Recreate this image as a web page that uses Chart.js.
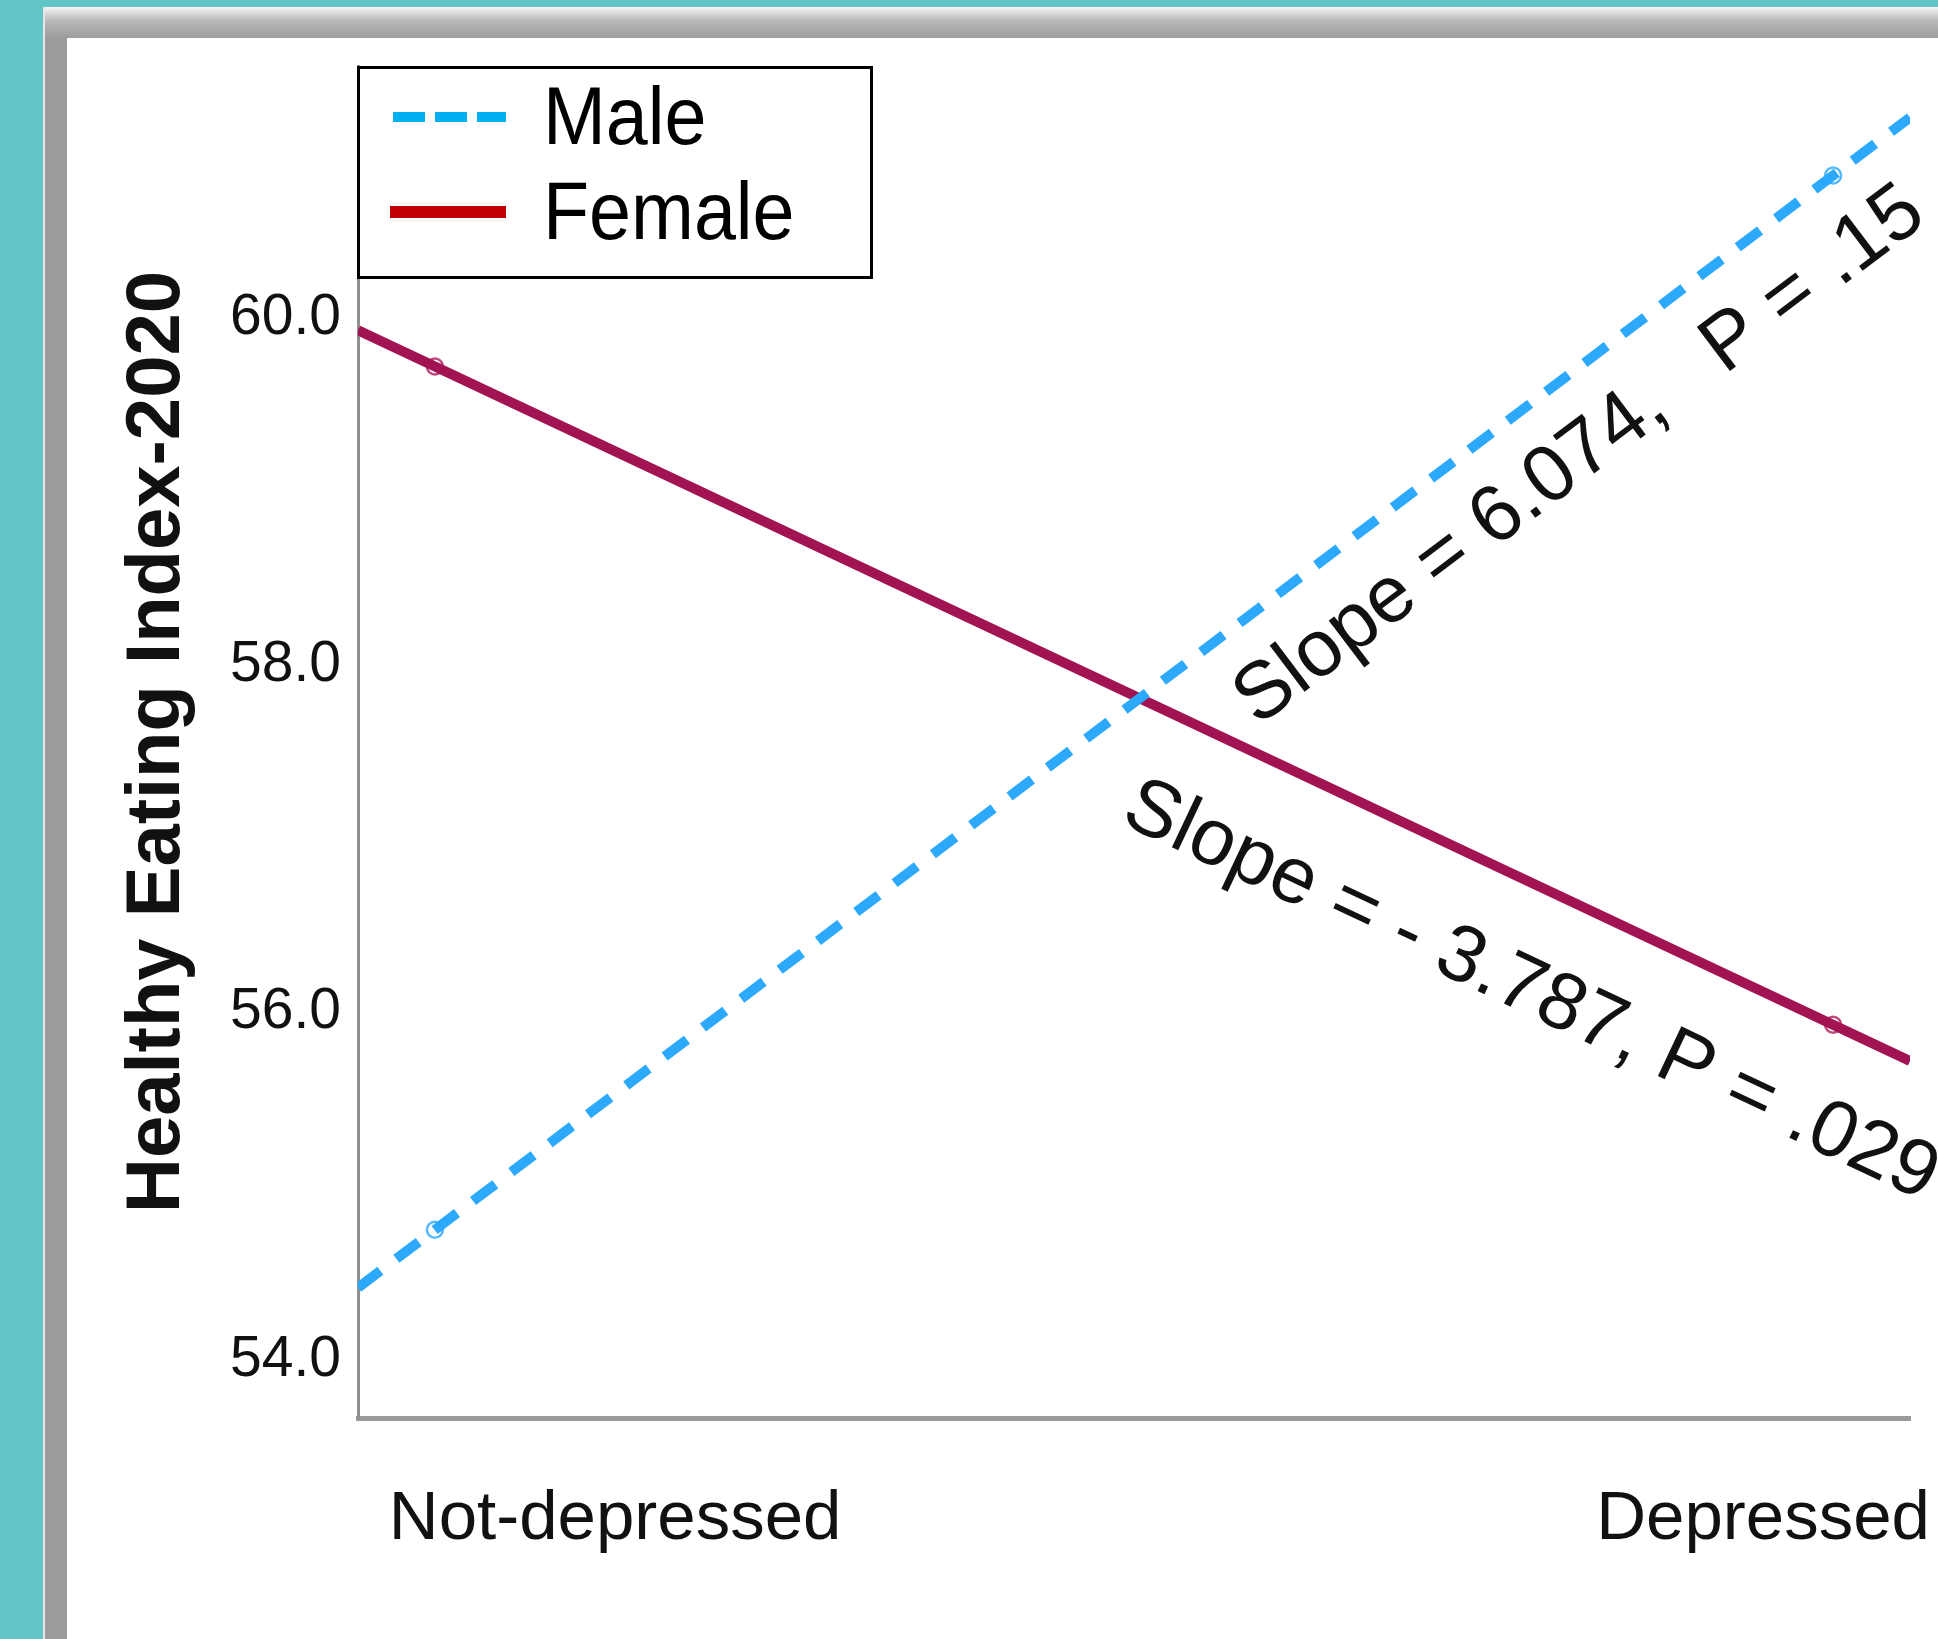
<!DOCTYPE html>
<html>
<head>
<meta charset="utf-8">
<title>Healthy Eating Index-2020 by depression status and sex</title>
<script src="https://cdn.jsdelivr.net/npm/chart.js@4.4.1/dist/chart.umd.min.js"></script>
<style>
  html, body { margin: 0; padding: 0; }
  body { width: 1938px; height: 1639px; background: #62c6c9; position: relative; overflow: hidden; }
  #frame {
    position: absolute; left: 43px; top: 7px; right: 0; bottom: 0;
    background: linear-gradient(to bottom, #f6f6f6 0px, #b8b8b8 14px, #9c9c9c 31px);
    border-left: 2px solid #e6e6e6;
  }
  #panel { position: absolute; left: 22px; top: 31px; right: 0; bottom: 0; background: #fff; }
  #chart { position: absolute; left: 0; top: 0; }
</style>
</head>
<body>
<div id="frame"><div id="panel"></div></div>
<canvas id="chart" width="1938" height="1639"></canvas>
<script>
// Group means
const categories = ["Not-depressed", "Depressed"];
const groups = ["Male", "Female"];
const maleMeans = [54.75, 60.82];
const femaleMeans = [59.72, 55.93];
const yTicks = [54.0, 56.0, 58.0, 60.0];
const slopeTexts = ["Slope = 6.074,   P = .15", "Slope = - 3.787, P = .029"];

// axis extents: the x range is padded a little past both groups
const xMin = -0.055, xMax = 1.055;
const yMin = 53.666, yMax = 61.45;

const FONT = "'Liberation Sans', Arial, Helvetica, sans-serif";
Chart.defaults.font.family = FONT;
Chart.defaults.color = "#111";

// straight fit line through the two group means
function fitAt(means, x) {
  return means[0] + (means[1] - means[0]) * x;
}
function meanPoints(means) {
  return means.map((v, i) => ({ x: i, y: v }));
}
function fitPoints(means) {
  return [xMin, xMax].map(x => ({ x: x, y: fitAt(means, x) }));
}

const allMeans = [maleMeans, femaleMeans];
const lineColors = ["#2da9fb", "#a11352"];
const markerColors = ["#56b9ff", "#bf4a7b"];
const legendColors = ["#00b0f0", "#c00000"];

// slope text sits along each fit line, a little below it
const slopeLabels = {
  id: "slopeLabels",
  afterDatasetsDraw(chart) {
    const ctx = chart.ctx;
    const xs = chart.scales.x, ys = chart.scales.y;
    const place = [{ t: 0.548, d: 94 }, { t: 0.526, d: 121 }];
    ctx.save();
    ctx.font = "80px " + FONT;
    ctx.fillStyle = "#111";
    ctx.textAlign = "left";
    ctx.textBaseline = "alphabetic";
    allMeans.forEach((means, i) => {
      const x0 = xs.getPixelForValue(0), y0 = ys.getPixelForValue(means[0]);
      const x1 = xs.getPixelForValue(1), y1 = ys.getPixelForValue(means[1]);
      const ang = Math.atan2(y1 - y0, x1 - x0);
      const p = place[i];
      const ax = x0 + (x1 - x0) * p.t - Math.sin(ang) * p.d;
      const ay = y0 + (y1 - y0) * p.t + Math.cos(ang) * p.d;
      ctx.save();
      ctx.translate(ax, ay);
      ctx.rotate(ang);
      ctx.fillText(slopeTexts[i], 0, 0);
      ctx.restore();
    });
    ctx.restore();
  }
};

// boxed legend in the top-left corner of the plot
const legendBox = {
  id: "legendBox",
  afterDraw(chart) {
    const ctx = chart.ctx;
    const left = chart.chartArea.left, top = chart.chartArea.top + 1;
    ctx.save();
    ctx.fillStyle = "#fff";
    ctx.fillRect(left, top, 514, 211);
    ctx.lineWidth = 3;
    ctx.strokeStyle = "#000";
    ctx.strokeRect(left + 0.5, top + 0.5, 513, 210);

    const rows = [50, 145];
    groups.forEach((g, i) => {
      const y = top + rows[i];
      ctx.beginPath();
      ctx.strokeStyle = legendColors[i];
      ctx.lineWidth = i === 0 ? 10 : 12;
      ctx.setLineDash(i === 0 ? [32, 10] : []);
      ctx.moveTo(left + (i === 0 ? 35 : 32), y);
      ctx.lineTo(left + 148, y);
      ctx.stroke();
      ctx.setLineDash([]);

      ctx.save();
      ctx.translate(left + 185, y + 27);
      ctx.scale(0.92, 1);
      ctx.font = "82px " + FONT;
      ctx.fillStyle = "#000";
      ctx.textBaseline = "alphabetic";
      ctx.fillText(g, 0, 0);
      ctx.restore();
    });
    ctx.restore();
  }
};

const datasets = [];
groups.forEach((g, i) => {
  datasets.push({
    label: g,
    data: fitPoints(allMeans[i]),
    showLine: true,
    borderColor: lineColors[i],
    borderWidth: 10,
    borderDash: i === 0 ? [28, 20] : [],
    borderCapStyle: "butt",
    pointRadius: 0,
    pointHoverRadius: 0
  });
  datasets.push({
    label: g + " mean",
    data: meanPoints(allMeans[i]),
    showLine: false,
    pointStyle: "circle",
    pointRadius: 8,
    pointBorderWidth: 2.5,
    pointBorderColor: markerColors[i],
    pointBackgroundColor: "rgba(0,0,0,0)"
  });
});

new Chart(document.getElementById("chart").getContext("2d"), {
  type: "scatter",
  data: { datasets: datasets },
  options: {
    responsive: false,
    animation: false,
    devicePixelRatio: 1,
    layout: { padding: { left: 112, top: 66, right: 28, bottom: 0 } },
    plugins: {
      legend: { display: false },
      tooltip: { enabled: false }
    },
    scales: {
      x: { type: "linear", min: xMin, max: xMax, display: false },
      xl: {
        type: "linear",
        position: "bottom",
        min: -0.224,
        max: 1.128,
        afterBuildTicks: s => { s.ticks = categories.map((c, i) => ({ value: i })); },
        afterFit: s => {
          s.height = 221;
          s.paddingLeft = 0;
          s.paddingRight = 0;
        },
        grid: { display: false, drawTicks: false },
        border: { display: true, color: "#9a9a9a", width: 5 },
        ticks: {
          padding: 61,
          autoSkip: false,
          maxRotation: 0,
          color: "#111",
          font: { size: 69 },
          callback: v => categories[v]
        }
      },
      y: {
        min: yMin,
        max: yMax,
        afterBuildTicks: s => { s.ticks = yTicks.map(v => ({ value: v })); },
        afterFit: s => {
          s.width = 246;
          s.paddingTop = 0;
          s.paddingBottom = 0;
        },
        grid: { display: false, drawTicks: false },
        border: { display: true, color: "#8f8f8f", width: 3 },
        ticks: {
          padding: 17,
          color: "#111",
          font: { size: 57 },
          callback: v => v.toFixed(1)
        },
        title: {
          display: true,
          text: "Healthy Eating Index-2020",
          color: "#111",
          padding: 0,
          font: { size: 76, weight: "bold" }
        }
      }
    }
  },
  plugins: [slopeLabels, legendBox]
});
</script>
</body>
</html>
